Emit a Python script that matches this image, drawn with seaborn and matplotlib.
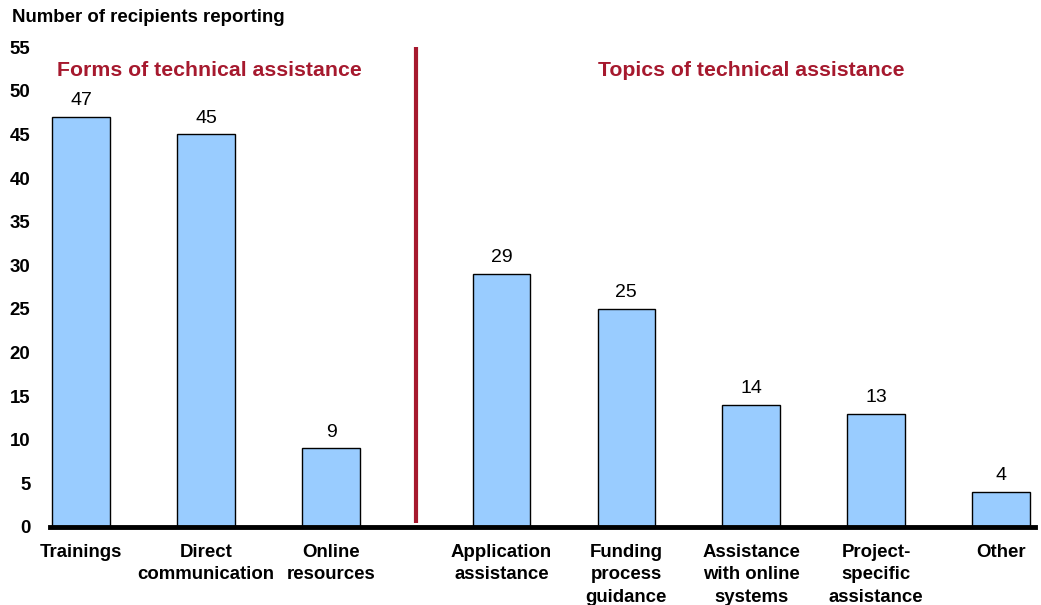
import matplotlib
matplotlib.use('Agg')
import matplotlib.pyplot as plt
import seaborn as sns
import pandas as pd

# data
forms = ['Trainings', 'Direct\ncommunication', 'Online\nresources']
forms_vals = [47, 45, 9]
topics = ['Application\nassistance', 'Funding\nprocess\nguidance', 'Assistance\nwith online\nsystems',
          'Project-\nspecific\nassistance', 'Other']
topics_vals = [29, 25, 14, 13, 4]

gap = 1.364  # distance between the two groups
pos = list(range(len(forms))) + [len(forms) - 1 + gap + i for i in range(len(topics))]
df = pd.DataFrame({'pos': pos, 'label': forms + topics, 'value': forms_vals + topics_vals})

sns.set_style('white')
plt.rcParams['font.family'] = ['Liberation Sans', 'DejaVu Sans']
plt.rcParams['text.color'] = 'black'
plt.rcParams['xtick.color'] = 'black'
plt.rcParams['ytick.color'] = 'black'

fig = plt.figure(figsize=(10.41, 6.05), dpi=100)
ax = fig.add_axes([0.048, 0.129, 0.946, 0.793])

sns.barplot(data=df, x='pos', y='value', native_scale=True, width=0.46,
            color='#99CCFF', saturation=1, edgecolor='black', linewidth=1, ax=ax)

for p, v in zip(df['pos'], df['value']):
    ax.text(p, v + 0.9, str(v), ha='center', va='bottom', fontsize=14)

ax.set_xlim(-0.25, df['pos'].max() + 0.27)
ax.set_ylim(0, 55)
ax.set_yticks(range(0, 56, 5))
ax.set_yticklabels([str(t) for t in range(0, 56, 5)], fontsize=13.4, fontweight='bold')
ax.set_xticks(df['pos'])
ax.set_xticklabels(df['label'], fontsize=13.4, fontweight='bold', linespacing=1.42, va='top')
ax.tick_params(axis='both', length=0)
ax.tick_params(axis='x', pad=12)
ax.tick_params(axis='y', pad=14)
ax.set_xlabel('')
ax.set_ylabel('')

for s in ['top', 'right', 'left']:
    ax.spines[s].set_visible(False)
ax.spines['bottom'].set_linewidth(3.5)
ax.spines['bottom'].set_color('black')

red = '#A6192E'
split = len(forms) - 1 + gap / 2
ax.plot([split, split], [0.5, 55], color=red, lw=3, solid_capstyle='butt')
ax.text(1.03, 52.3, 'Forms of technical assistance', color=red, fontsize=15.3,
        fontweight='bold', ha='center', va='center')
ax.text(df['pos'].iloc[5], 52.3, 'Topics of technical assistance', color=red, fontsize=15.3,
        fontweight='bold', ha='center', va='center')

fig.text(0.012, 0.971, 'Number of recipients reporting', fontsize=13.4, fontweight='bold',
         ha='left', va='center')

fig.savefig('out.png', dpi=100)
